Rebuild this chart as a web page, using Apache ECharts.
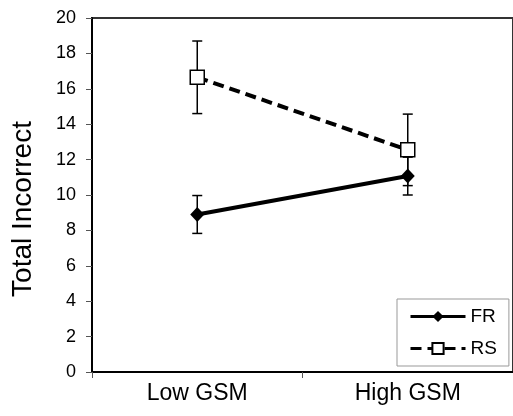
<!DOCTYPE html>
<html>
<head>
<meta charset="utf-8">
<script src="https://cdn.jsdelivr.net/npm/echarts@6/dist/echarts.min.js"></script>
<style>html,body{margin:0;padding:0;background:#fff;}#c{width:513px;height:416px;}</style>
</head>
<body>
<div id="c"></div>
<script>
var categories = ['Low GSM', 'High GSM'];
var frMean = [8.9, 11.07];
var frErr = [1.07, 1.07];
var rsMean = [16.65, 12.55];
var rsErr = [2.05, 2.02];
var yTicks = [0, 2, 4, 6, 8, 10, 12, 14, 16, 18, 20];

var FONT = '"Liberation Sans", Arial, sans-serif';

function errData(mean, err) {
  return mean.map(function (m, i) { return [i, m - err[i], m + err[i]]; });
}
function errRender(params, api) {
  var lo = api.coord([api.value(0), api.value(1)]);
  var hi = api.coord([api.value(0), api.value(2)]);
  var w = 5;
  var st = { stroke: '#000', lineWidth: 1.5 };
  return {
    type: 'group',
    children: [
      { type: 'line', shape: { x1: lo[0], y1: lo[1], x2: hi[0], y2: hi[1] }, style: st },
      { type: 'line', shape: { x1: lo[0] - w, y1: lo[1], x2: lo[0] + w, y2: lo[1] }, style: st },
      { type: 'line', shape: { x1: hi[0] - w, y1: hi[1], x2: hi[0] + w, y2: hi[1] }, style: st }
    ]
  };
}

var chart = echarts.init(document.getElementById('c'), null, { renderer: 'canvas' });
chart.setOption({
  animation: false,
  backgroundColor: '#fff',
  textStyle: { fontFamily: FONT },
  grid: { left: 92, right: -8, top: 18, bottom: 44, show: true, borderColor: '#333', borderWidth: 2, backgroundColor: 'transparent' },
  xAxis: {
    type: 'category',
    data: categories,
    boundaryGap: true,
    axisLine: { lineStyle: { color: '#000', width: 2 } },
    axisTick: { show: true, length: 6, lineStyle: { color: '#555', width: 1 } },
    axisLabel: { color: '#000', fontSize: 23, fontFamily: FONT, margin: 10 },
    splitLine: { show: false }
  },
  yAxis: {
    type: 'value',
    min: yTicks[0],
    max: yTicks[yTicks.length - 1],
    interval: yTicks[1] - yTicks[0],
    axisLine: { show: true, lineStyle: { color: '#000', width: 2 } },
    axisTick: { show: true, length: 6, lineStyle: { color: '#555', width: 1 } },
    axisLabel: { color: '#000', fontSize: 18, fontFamily: FONT, margin: 16 },
    splitLine: { show: false }
  },
  graphic: [{
    type: 'text',
    x: 23, y: 209,
    rotation: Math.PI / 2,
    style: { text: 'Total Incorrect', fontSize: 28, fontFamily: FONT, fill: '#000', align: 'center', verticalAlign: 'middle' }
  }],
  legend: {
    data: ['FR', 'RS'],
    orient: 'vertical',
    left: 397, top: 299,
    padding: [8, 12, 8, 12],
    itemGap: 13,
    itemWidth: 55, itemHeight: 14,
    borderColor: '#999', borderWidth: 1, borderRadius: 0,
    backgroundColor: '#fff',
    lineStyle: { width: 3 },
    textStyle: { color: '#000', fontSize: 19, fontFamily: FONT }
  },
  series: [
    {
      name: 'FR-err', type: 'custom', renderItem: errRender, data: errData(frMean, frErr), z: 1, silent: true
    },
    {
      name: 'RS-err', type: 'custom', renderItem: errRender, data: errData(rsMean, rsErr), z: 1, silent: true
    },
    {
      name: 'FR', type: 'line', data: frMean, z: 3,
      symbol: 'diamond', symbolSize: [14, 15],
      lineStyle: { color: '#000', width: 4 },
      itemStyle: { color: '#000', borderColor: '#000', borderWidth: 0 }
    },
    {
      name: 'RS', type: 'line', data: rsMean, z: 4,
      symbol: 'rect', symbolSize: [14, 14],
      lineStyle: { color: '#000', width: 4, type: [11, 6] },
      itemStyle: { color: '#fff', borderColor: '#000', borderWidth: 1.5 }
    }
  ]
});
</script>
</body>
</html>
